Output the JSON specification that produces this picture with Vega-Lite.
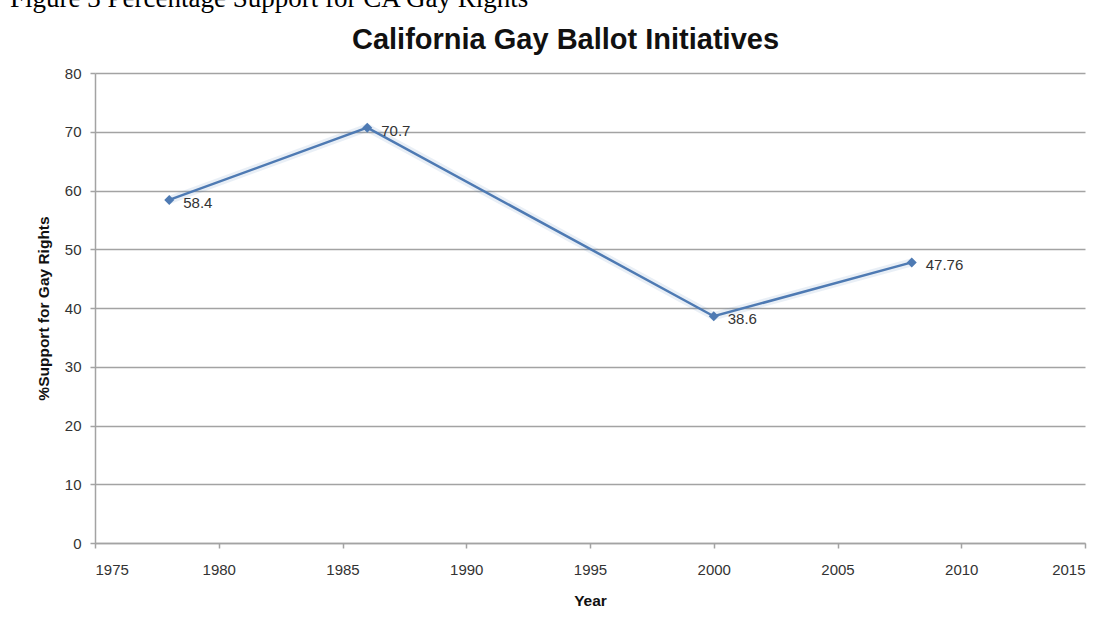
{
  "$schema": "https://vega.github.io/schema/vega-lite/v6.json",
  "autosize": {"type": "none"},
  "width": 990,
  "height": 470,
  "padding": {"left": 95, "top": 73, "right": 29, "bottom": 84},
  "background": "white",
  "title": {
    "text": "Figure 3 Percentage Support for CA Gay Rights",
    "anchor": "start",
    "frame": "group",
    "dx": -85,
    "offset": 12,
    "font": "Liberation Serif",
    "fontSize": 27,
    "fontWeight": "normal",
    "color": "#000000"
  },
  "config": {
    "view": {"stroke": null},
    "axis": {
      "labelFont": "Liberation Sans",
      "titleFont": "Liberation Sans",
      "labelFontSize": 15,
      "labelColor": "#333333",
      "titleColor": "#111111",
      "titleFontSize": 15.5,
      "titleFontWeight": "bold",
      "gridColor": "#a3a3a3",
      "gridWidth": 1.5,
      "domainColor": "#a3a3a3",
      "domainWidth": 1.5,
      "tickColor": "#a3a3a3",
      "tickWidth": 1.5,
      "tickSize": 5
    }
  },
  "data": {
    "values": [
      {"year": 1978, "support": 58.4},
      {"year": 1986, "support": 70.7},
      {"year": 2000, "support": 38.6},
      {"year": 2008, "support": 47.76}
    ]
  },
  "resolve": {"axis": {"x": "independent"}},
  "layer": [
    {
      "mark": {"type": "line", "color": "#4e7ab3", "strokeWidth": 8, "opacity": 0.12},
      "encoding": {
        "x": {
          "field": "year",
          "type": "quantitative",
          "scale": {"domain": [1975, 2015], "nice": false, "zero": false},
          "axis": {
            "orient": "top",
            "labels": false,
            "ticks": false,
            "domain": false,
            "grid": false,
            "title": "California Gay Ballot Initiatives",
            "titleFont": "Liberation Sans",
            "titleFontSize": 29,
            "titleFontWeight": "bold",
            "titleColor": "#111111",
            "titleX": 470,
            "titleY": -25,
            "titleAnchor": "middle",
            "titleBaseline": "alphabetic",
            "titleAlign": "center"
          }
        },
        "y": {"field": "support", "type": "quantitative", "scale": {"domain": [0, 80]}}
      }
    },
    {
      "mark": {"type": "line", "color": "#4e7ab3", "strokeWidth": 2.5},
      "encoding": {
        "x": {
          "field": "year",
          "type": "quantitative",
          "scale": {"domain": [1975, 2015], "nice": false, "zero": false},
          "axis": {
            "orient": "bottom",
            "values": [1975, 1980, 1985, 1990, 1995, 2000, 2005, 2010, 2015],
            "format": "d",
            "labelPadding": 14,
            "title": "Year",
            "titlePadding": 16
          }
        },
        "y": {
          "field": "support",
          "type": "quantitative",
          "scale": {"domain": [0, 80]},
          "axis": {
            "values": [0, 10, 20, 30, 40, 50, 60, 70, 80],
            "labelPadding": 9,
            "title": "%Support for Gay Rights",
            "titlePadding": 13
          }
        }
      }
    },
    {
      "mark": {"type": "point", "shape": "diamond", "filled": true, "size": 100, "color": "#4e7ab3", "opacity": 1},
      "encoding": {
        "x": {"field": "year", "type": "quantitative", "axis": null},
        "y": {"field": "support", "type": "quantitative"}
      }
    },
    {
      "mark": {"type": "text", "align": "left", "baseline": "middle", "dx": 14, "dy": 3, "font": "Liberation Sans", "fontSize": 15, "color": "#333333"},
      "encoding": {
        "x": {"field": "year", "type": "quantitative", "axis": null},
        "y": {"field": "support", "type": "quantitative"},
        "text": {"field": "support", "type": "nominal"}
      }
    }
  ]
}
